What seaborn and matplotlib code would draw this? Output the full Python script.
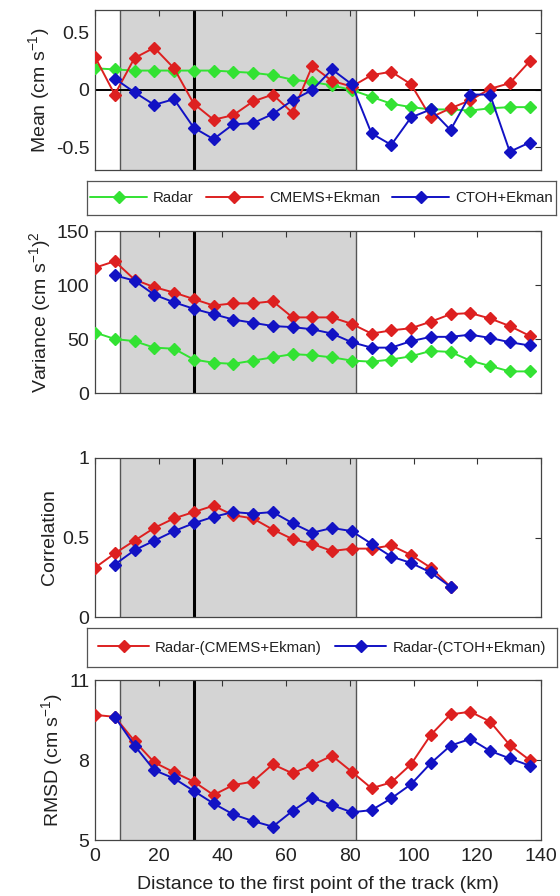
import matplotlib
matplotlib.use("Agg")
import matplotlib.pyplot as plt
import seaborn as sns

# Along-track distance of each comparison point (km)
dist_km = [0.0, 6.2, 12.4, 18.6, 24.8, 31.0, 37.2, 43.4, 49.6, 55.8, 62.0, 68.2,
           74.4, 80.6, 86.8, 93.0, 99.2, 105.4, 111.6, 117.8, 124.0, 130.2, 136.4]

# Mean velocity (cm/s)
mean_radar = [0.19, 0.18, 0.17, 0.17, 0.17, 0.17, 0.17, 0.16, 0.15, 0.13, 0.09, 0.07,
              0.04, 0.00, -0.06, -0.12, -0.15, -0.17, -0.17, -0.18, -0.16, -0.15, -0.15]
mean_cmems = [0.29, -0.04, 0.28, 0.37, 0.19, -0.12, -0.26, -0.22, -0.10, -0.04, -0.20, 0.21,
              0.08, 0.03, 0.13, 0.16, 0.05, -0.24, -0.16, -0.09, 0.01, 0.06, 0.25]
mean_ctoh = [0.10, -0.02, -0.13, -0.08, -0.33, -0.43, -0.30, -0.29, -0.21, -0.09, 0.00,
             0.18, 0.05, -0.38, -0.48, -0.24, -0.17, -0.35, -0.04, -0.04, -0.54, -0.46]

# Variance ((cm/s)^2)
var_radar = [56, 50, 48, 42, 41, 31, 28, 27, 30, 33, 36, 35, 33, 30, 29, 31, 34, 39, 38,
             30, 25, 20, 20]
var_cmems = [116, 122, 105, 98, 93, 87, 81, 83, 83, 85, 70, 70, 70, 64, 55, 58, 60, 66, 73,
             74, 69, 62, 53]
var_ctoh = [109, 104, 91, 84, 78, 73, 68, 65, 62, 61, 59, 55, 47, 42, 42, 48, 52, 52, 54,
            51, 47, 44]

# Correlation with radar
corr_cmems = [0.31, 0.40, 0.48, 0.56, 0.62, 0.66, 0.70, 0.64, 0.62, 0.55, 0.49, 0.46,
              0.415, 0.43, 0.43, 0.45, 0.39, 0.31, 0.19]
corr_ctoh = [0.33, 0.42, 0.48, 0.54, 0.59, 0.63, 0.66, 0.65, 0.66, 0.59, 0.53, 0.56,
             0.54, 0.46, 0.38, 0.34, 0.28, 0.19]

# RMSD with radar (cm/s)
rmsd_cmems = [9.69, 9.62, 8.71, 7.91, 7.54, 7.19, 6.69, 7.06, 7.19, 7.84, 7.50, 7.81,
              8.16, 7.56, 6.94, 7.16, 7.84, 8.94, 9.71, 9.81, 9.44, 8.56, 8.00]
rmsd_ctoh = [9.62, 8.54, 7.62, 7.31, 6.84, 6.37, 5.96, 5.71, 5.50, 6.09, 6.59, 6.31,
             6.04, 6.12, 6.56, 7.09, 7.88, 8.54, 8.79, 8.34, 8.06, 7.79]

series_names = ["Radar", "CMEMS+Ekman", "CTOH+Ekman"]
diff_names = ["Radar-(CMEMS+Ekman)", "Radar-(CTOH+Ekman)"]
x_ticks = [0, 20, 40, 60, 80, 100, 120, 140]

GREEN = "#33e233"
RED = "#dd2020"
BLUE = "#1212c4"

sns.set_theme(style="white")
plt.rcParams["font.family"] = ["Liberation Sans", "DejaVu Sans"]
plt.rcParams["mathtext.fontset"] = "custom"
plt.rcParams["mathtext.rm"] = "Liberation Sans"
plt.rcParams["mathtext.it"] = "Liberation Sans:italic"
plt.rcParams["mathtext.default"] = "regular"

fig = plt.figure(figsize=(5.6, 8.96), dpi=100)

W, H = 560.0, 896.0


def add_ax(left, top, right, bottom):
    return fig.add_axes([left / W, 1 - bottom / H, (right - left) / W, (bottom - top) / H])


def style_ax(ax, ylim, yticks, yticklabels, ylabel, show_x):
    ax.axvspan(8, 82, color="#d4d4d4", zorder=0, lw=0)
    ax.axvline(8, color="#555555", lw=1.0, zorder=1)
    ax.axvline(82, color="#555555", lw=1.0, zorder=1)
    ax.axvline(31, color="black", lw=2.2, zorder=1)
    ax.set_xlim(0, 140)
    ax.set_ylim(*ylim)
    ax.set_xticks(x_ticks)
    ax.set_yticks(yticks)
    ax.set_yticklabels(yticklabels)
    ax.tick_params(direction="in", top=True, right=True, length=4, width=0.8,
                   color="#333333", labelsize=14, pad=4, labelcolor="#222222")
    ax.tick_params(axis="x", labelbottom=show_x, pad=6)
    for sp in ax.spines.values():
        sp.set_visible(True)
        sp.set_color("#444444")
        sp.set_linewidth(0.9)
    ax.set_ylabel(ylabel, fontsize=14, labelpad=3, color="#222222")
    ax.set_xlabel("")
    if ax.get_legend() is not None:
        ax.get_legend().remove()


def draw(ax, x, y, color, label):
    sns.lineplot(x=x, y=y, ax=ax, color=color, marker="D", markersize=5.8,
                 markeredgecolor=color, markeredgewidth=1.0, linewidth=1.4,
                 label=label, legend=False, sort=False, estimator=None, zorder=3)


def legend_box(ax_src, left, top, right, bottom, hlen, colsp):
    lax = add_ax(left, top, right, bottom)
    lax.set_xticks([])
    lax.set_yticks([])
    for sp in lax.spines.values():
        sp.set_visible(True)
        sp.set_color("#555555")
        sp.set_linewidth(0.9)
    handles, labels = ax_src.get_legend_handles_labels()
    lax.legend(handles, labels, loc="center", ncol=len(labels), frameon=False,
               prop={"size": 10.8}, labelcolor="#222222",
               handlelength=hlen, handletextpad=0.4, columnspacing=colsp,
               borderaxespad=0.0, borderpad=0.0)


# Panel 1: mean
ax1 = add_ax(95, 10, 541, 170)
draw(ax1, dist_km, mean_radar, GREEN, series_names[0])
draw(ax1, dist_km, mean_cmems, RED, series_names[1])
draw(ax1, dist_km[1:], mean_ctoh, BLUE, series_names[2])
ax1.axhline(0, color="black", lw=1.4, zorder=2)
style_ax(ax1, (-0.7, 0.7), [-0.5, 0, 0.5], ["-0.5", "0", "0.5"],
         "Mean (cm s$^{-1}$)", False)

legend_box(ax1, 87, 181, 556, 215, 3.8, 0.8)

# Panel 2: variance
ax2 = add_ax(95, 231, 541, 393)
draw(ax2, dist_km, var_radar, GREEN, series_names[0])
draw(ax2, dist_km, var_cmems, RED, series_names[1])
draw(ax2, dist_km[1:], var_ctoh, BLUE, series_names[2])
style_ax(ax2, (0, 150), [0, 50, 100, 150], ["0", "50", "100", "150"],
         "Variance (cm s$^{-1}$)$^2$", False)

# Panel 3: correlation
ax3 = add_ax(95, 458, 541, 617)
draw(ax3, dist_km[:len(corr_cmems)], corr_cmems, RED, diff_names[0])
draw(ax3, dist_km[1:1 + len(corr_ctoh)], corr_ctoh, BLUE, diff_names[1])
style_ax(ax3, (0, 1), [0, 0.5, 1], ["0", "0.5", "1"], "Correlation", False)

legend_box(ax3, 87, 628, 557, 667, 3.4, 0.9)

# Panel 4: RMSD
ax4 = add_ax(95, 680, 541, 840)
draw(ax4, dist_km, rmsd_cmems, RED, diff_names[0])
draw(ax4, dist_km[1:], rmsd_ctoh, BLUE, diff_names[1])
style_ax(ax4, (5, 11), [5, 8, 11], ["5", "8", "11"], "RMSD (cm s$^{-1}$)", True)
ax4.set_xticklabels([str(t) for t in x_ticks])
ax4.set_xlabel("Distance to the first point of the track (km)", fontsize=14,
               labelpad=8, color="#222222")

fig.savefig("out.png", dpi=100)
